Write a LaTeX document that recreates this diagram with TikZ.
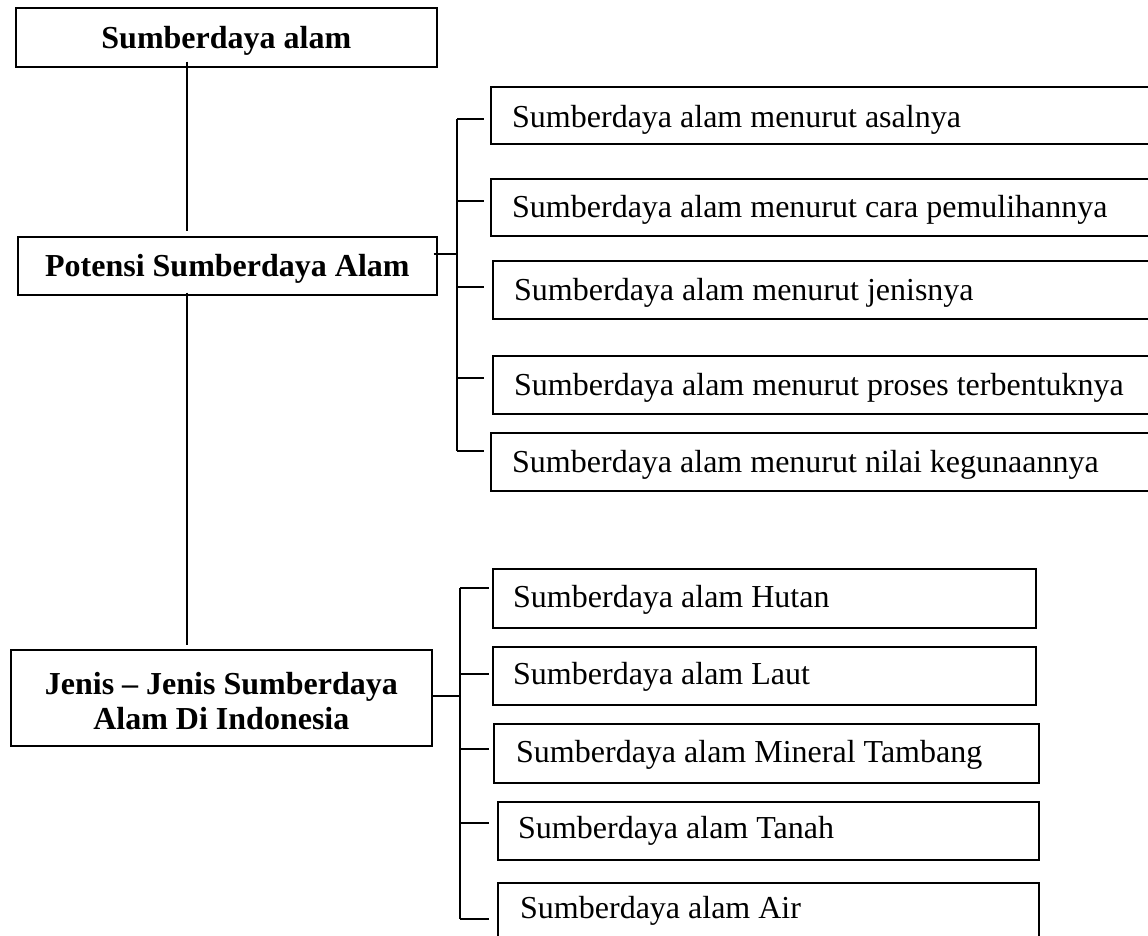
\documentclass[tikz,border=0pt]{standalone}
\usepackage{fontspec}
\setmainfont{Liberation Serif}
\begin{document}
\begin{tikzpicture}[x=1pt,y=-1pt,
  box/.style={draw, line width=1.7pt, inner sep=0pt, anchor=north west},
  ttl/.style={font=\fontsize{32}{35}\selectfont\bfseries, align=center},
  itemtext/.style={font=\fontsize{32}{36}\selectfont, anchor=base west, inner sep=0pt},
  con/.style={line width=1.7pt}]
\useasboundingbox (0,0) rectangle (1148,935);
% left column
\node[box, ttl, text height=22pt, text depth=0pt, minimum width=421pt, minimum height=59pt] (top) at (15,7) {Sumberdaya alam};
\node[box, ttl, text height=22pt, text depth=0pt, minimum width=419pt, minimum height=58pt] (pot) at (17,236) {Potensi Sumberdaya Alam};
\node[box, minimum width=421pt, minimum height=96pt] (jen) at (10,649) {};
\node[ttl] at ([yshift=-3pt]jen.center) {Jenis -- Jenis Sumberdaya\\Alam Di Indonesia};
\coordinate (cx) at (187,0);
\draw[con] ([yshift=6pt]top.south -| cx) -- ([yshift=5pt]pot.north -| cx);
\draw[con] ([yshift=3pt]pot.south -| cx) -- ([yshift=4pt]jen.north -| cx);
% group 1 boxes
\node[box, minimum width=671pt, minimum height=57pt] (a1) at (490,86) {};
\node[box, minimum width=671pt, minimum height=57pt] (a2) at (490,178) {};
\node[box, minimum width=668pt, minimum height=58pt] (a3) at (492,260) {};
\node[box, minimum width=668pt, minimum height=58pt] (a4) at (492,355) {};
\node[box, minimum width=671pt, minimum height=58pt] (a5) at (490,432) {};
\node[itemtext] at ([shift={(22,41)}]a1.north west) {Sumberdaya alam menurut asalnya};
\node[itemtext] at ([shift={(22,39)}]a2.north west) {Sumberdaya alam menurut cara pemulihannya};
\node[itemtext] at ([shift={(22,40)}]a3.north west) {Sumberdaya alam menurut jenisnya};
\node[itemtext] at ([shift={(22,40)}]a4.north west) {Sumberdaya alam menurut proses terbentuknya};
\node[itemtext] at ([shift={(22,40)}]a5.north west) {Sumberdaya alam menurut nilai kegunaannya};
% group 1 connectors
\coordinate (bus1) at (457,0);
\coordinate (h1) at (0,254);
\draw[con] ([xshift=-4pt]pot.east |- h1) -- (bus1 |- h1);
\draw[con] (bus1 |- 0,119) -- (bus1 |- 0,451);
\foreach \yy in {119, 201, 287, 378, 451}{
  \draw[con] (457,\yy) -- (484,\yy);
}
% group 2 boxes
\node[box, minimum width=543pt, minimum height=59pt] (b1) at (492,568) {};
\node[box, minimum width=543pt, minimum height=58pt] (b2) at (492,646) {};
\node[box, minimum width=545pt, minimum height=59pt] (b3) at (493,723) {};
\node[box, minimum width=541pt, minimum height=58pt] (b4) at (497,801) {};
\node[box, minimum width=541pt, minimum height=80pt] (b5) at (497,882) {};
\node[itemtext] at ([shift={(21,39)}]b1.north west) {Sumberdaya alam Hutan};
\node[itemtext] at ([shift={(21,38)}]b2.north west) {Sumberdaya alam Laut};
\node[itemtext] at ([shift={(23,39)}]b3.north west) {Sumberdaya alam Mineral Tambang};
\node[itemtext] at ([shift={(21,37)}]b4.north west) {Sumberdaya alam Tanah};
\node[itemtext] at ([shift={(23,36)}]b5.north west) {Sumberdaya alam Air};
% group 2 connectors
\coordinate (bus2) at (460,0);
\coordinate (h2) at (0,696);
\draw[con] ([xshift=-1pt]jen.east |- h2) -- (bus2 |- h2);
\draw[con] (bus2 |- 0,588) -- (bus2 |- 0,919);
\foreach \yy in {588, 674, 749, 823, 919}{
  \draw[con] (460,\yy) -- (489,\yy);
}
\end{tikzpicture}
\end{document}
